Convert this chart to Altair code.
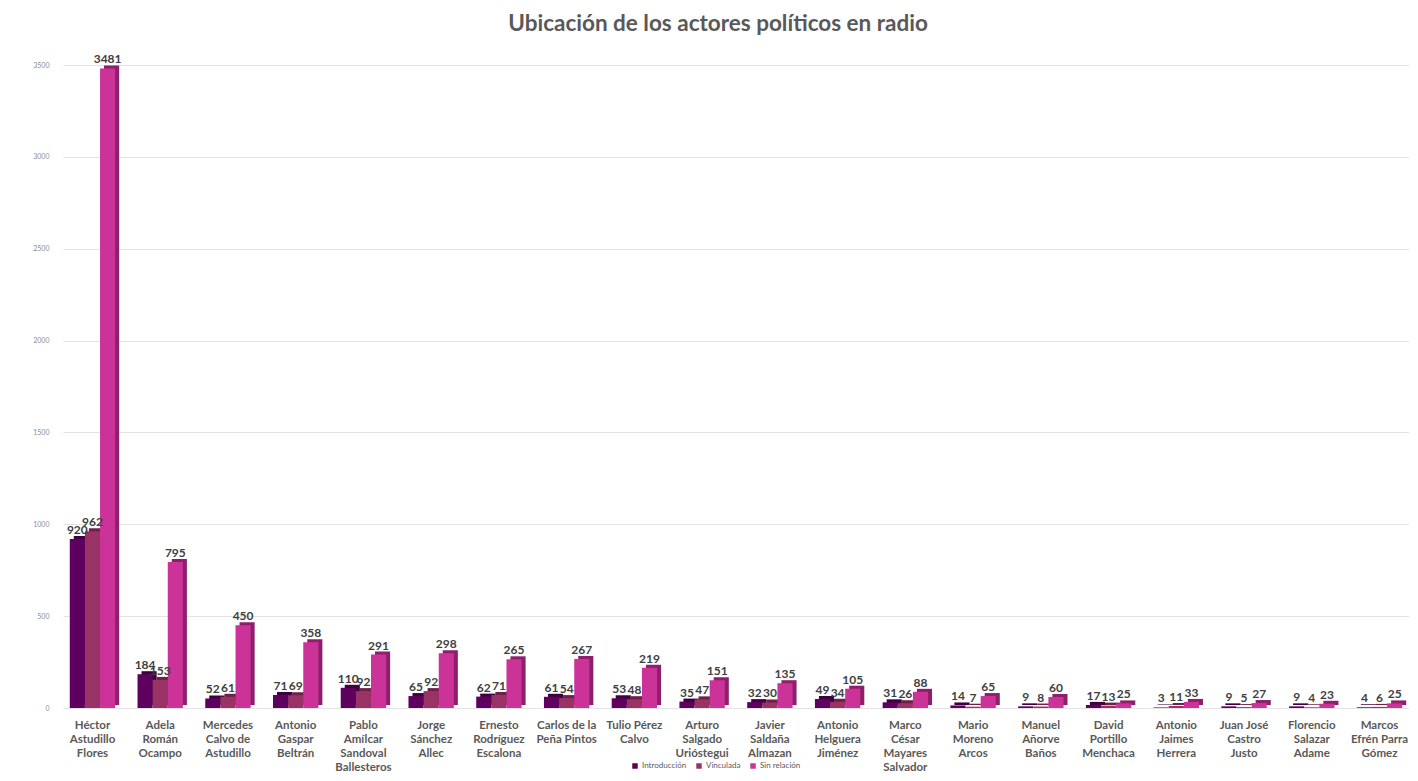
import altair as alt
import pandas as pd

names = [
    "Héctor|Astudillo|Flores", "Adela|Román|Ocampo", "Mercedes|Calvo de|Astudillo",
    "Antonio|Gaspar|Beltrán", "Pablo|Amílcar|Sandoval|Ballesteros", "Jorge|Sánchez|Allec",
    "Ernesto|Rodríguez|Escalona", "Carlos de la|Peña Pintos", "Tulio Pérez|Calvo",
    "Arturo|Salgado|Urióstegui", "Javier|Saldaña|Almazan", "Antonio|Helguera|Jiménez",
    "Marco|César|Mayares|Salvador", "Mario|Moreno|Arcos", "Manuel|Añorve|Baños",
    "David|Portillo|Menchaca", "Antonio|Jaimes|Herrera", "Juan José|Castro|Justo",
    "Florencio|Salazar|Adame", "Marcos|Efrén Parra|Gómez",
]
introduccion = [920, 184, 52, 71, 110, 65, 62, 61, 53, 35, 32, 49, 31, 14, 9, 17, 3, 9, 9, 4]
vinculada = [962, 153, 61, 69, 92, 92, 71, 54, 48, 47, 30, 34, 26, 7, 8, 13, 11, 5, 4, 6]
sin_relacion = [3481, 795, 450, 358, 291, 298, 265, 267, 219, 151, 135, 105, 88, 65, 60, 25, 33, 27, 23, 25]
series = ["Introducción", "Vinculada", "Sin relación"]
colors = ["#5E005E", "#993366", "#CC3399"]
side_colors = ["#3E003E", "#6E2049", "#8E1F6B"]

rows = []
for i, n in enumerate(names):
    for s, vals in zip(series, [introduccion, vinculada, sin_relacion]):
        rows.append({"actor": n, "serie": s, "valor": vals[i]})
df = pd.DataFrame(rows)

FONT = "Lato"
W = 1346
P_IN, P_OUT = 0.33, 0.1
STEP = W / (len(names) - P_IN + 2 * P_OUT)
BW = STEP * (1 - P_IN)
DEPTH_X, DEPTH_Y = 4, 3

x = alt.X("actor:N", sort=names, scale=alt.Scale(paddingInner=P_IN, paddingOuter=P_OUT),
          axis=alt.Axis(title=None, labelExpr="split(datum.label, '|')", labelAngle=0,
                        labelFontSize=11.5, labelFontWeight="bold", labelColor="#595959",
                        labelFont=FONT, labelPadding=11, labelLineHeight=14,
                        domain=False, ticks=False, labelBaseline="top"))
y = alt.Y("valor:Q", scale=alt.Scale(domain=[0, 3500]),
          axis=alt.Axis(title=None, values=[0, 500, 1000, 1500, 2000, 2500, 3000, 3500],
                        format="d", labelFontSize=7, labelColor="#8C8C8C", labelFont=FONT,
                        domain=False, ticks=False, gridColor="#E3E3E3", labelPadding=14))
color = alt.Color("serie:N", sort=series, scale=alt.Scale(domain=series, range=colors),
                  legend=alt.Legend(title=None, orient="none", direction="horizontal",
                                    legendX=568, legendY=697, symbolType="square",
                                    symbolSize=30, labelFontSize=8, labelColor="#595959",
                                    labelFont=FONT, columnPadding=8, symbolOffset=0,
                                    labelOffset=3, padding=0))
side_color = alt.Color("serie:N", sort=series,
                       scale=alt.Scale(domain=series, range=side_colors), legend=None)

xoff_front = alt.XOffset("serie:N", sort=series, scale=alt.Scale(range=[0, BW]))
xoff_side = alt.XOffset("serie:N", sort=series,
                        scale=alt.Scale(range=[DEPTH_X, BW + DEPTH_X]))

sides = alt.Chart(df).mark_bar(yOffset=-DEPTH_Y).encode(
    x=x, xOffset=xoff_side, y=y, color=side_color)
bars = alt.Chart(df).mark_bar().encode(x=x, xOffset=xoff_front, y=y, color=color)
labels = alt.Chart(df).mark_text(dy=-9, fontSize=12, fontWeight="bold", color="#404040",
                                 font=FONT).encode(x=x, xOffset=xoff_front, y=y,
                                                   text="valor:Q")

chart = alt.layer(sides, bars, labels).resolve_scale(
    color="independent", xOffset="independent"
).properties(
    width=W, height=643,
    title=alt.Title("Ubicación de los actores políticos en radio", fontSize=22.5,
                    font=FONT, fontWeight="bold", color="#595959", offset=18, dx=-18),
    autosize=alt.AutoSizeParams(type="none"),
    padding={"left": 55, "top": 57, "right": 0, "bottom": 65},
).configure_view(stroke=None)

chart.save("out.html", embed_options={"renderer": "svg", "actions": False})
